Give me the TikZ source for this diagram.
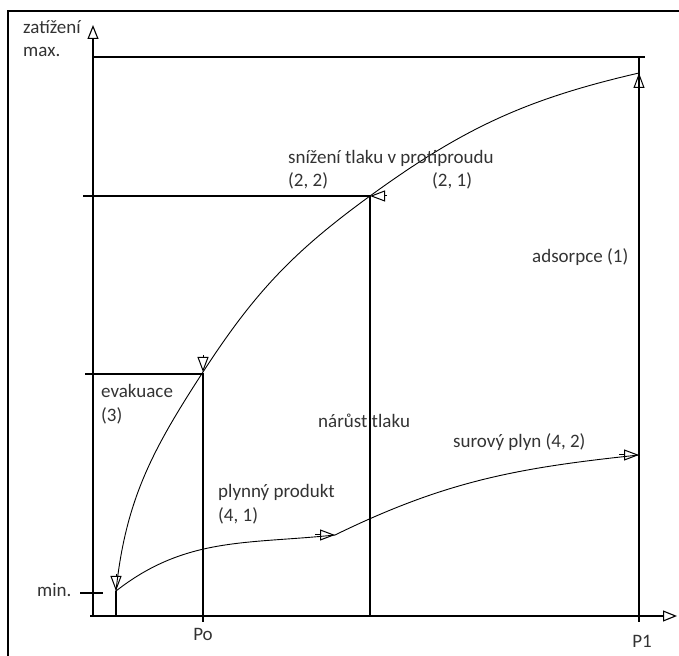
\documentclass[tikz,border=0pt]{standalone}
\usepackage{fontspec}
\setmainfont{Carlito}
\usetikzlibrary{arrows.meta}

\begin{document}
\begin{tikzpicture}[x=1pt,y=1pt,
    every node/.style={font=\fontsize{19}{22}\selectfont,text=black!80,inner sep=0pt},
    axis/.style={line width=1.1pt,-{Triangle[open,length=14pt,width=11pt]}},
    guide/.style={line width=1.1pt},
    curve/.style={line width=0.9pt},
    flowtip/.style={line width=1pt,-{Triangle[open,length=15pt,width=11pt]}},
    lbl/.style={anchor=base west}]
    \useasboundingbox (0,0) rectangle (679,655);
    \draw[line width=2.5pt] (8,-5) -- (8,644) -- (690,644);

    % points of the cycle
    \coordinate (min) at (116,64);
    \coordinate (po)  at (203,283);
    \coordinate (pp)  at (370,459);
    \coordinate (top) at (639,582);
    \coordinate (mid) at (335,120);
    \coordinate (raw) at (639,200);

    % axes
    \draw[axis] (93,39) -- (93,630);
    \draw[axis] (90,39) -- (677,39);

    % guide lines
    \draw[guide] (93,598) -- (645,598);
    \draw[guide] (639,598) -- (639,33);
    \draw[guide] (83,459) -- (pp) -- (370,39);
    \draw[guide] (85,281) -- (203,281) -- (203,33);
    \draw[guide] (80,62) -- (103,62);
    \draw[guide] (min) -- (116,39);

    % curves
    \draw[curve] (min) to[out=84,in=237] (po) to[out=57,in=216] (pp)
        to[out=36,in=193] (top);
    \draw[curve] (min) to[out=38,in=186] (mid);
    \draw[curve] (mid) to[out=26,in=186] (raw);

    % flow marks
    \draw[flowtip] ([yshift=17]min) -- (min);
    \draw[flowtip] ([yshift=17]po) -- (po);
    \draw[flowtip] ([xshift=17]pp) -- (pp);
    \draw[flowtip] ([yshift=-21]top) -- (top);
    \draw[flowtip] ([xshift=-20]mid) -- (mid);
    \draw[flowtip] ([xshift=-20]raw) -- (raw);

    % labels
    \node[lbl] (load) at (23,621) {zatížení};
    \node[lbl] (maxl) at (23,598) {max.};
    \node[lbl] (minl) at (37,58) {min.};
    \node[lbl] (drop) at (288,491) {snížení tlaku v protiproudu};
    \node[lbl] (s22) at (288,468) {(2, 2)};
    \node[lbl] (s21) at (432,468) {(2, 1)};
    \node[lbl] (evac) at (101,257) {evakuace};
    \node[lbl] (s3) at (101,233) {(3)};
    \node[lbl] (rise) at (318,227) {nárůst tlaku};
    \node[lbl] (rawgas) at (453,207) {surový plyn (4, 2)};
    \node[lbl] (prod) at (218,157) {plynný produkt};
    \node[lbl] (s41) at (218,133) {(4, 1)};
    \node[lbl] (ads) at (532,392) {adsorpce (1)};
    \node[anchor=base] (pol) at (203,15) {Po};
    \node[anchor=base] (p1l) at (642,8) {P1};
\end{tikzpicture}
\end{document}
